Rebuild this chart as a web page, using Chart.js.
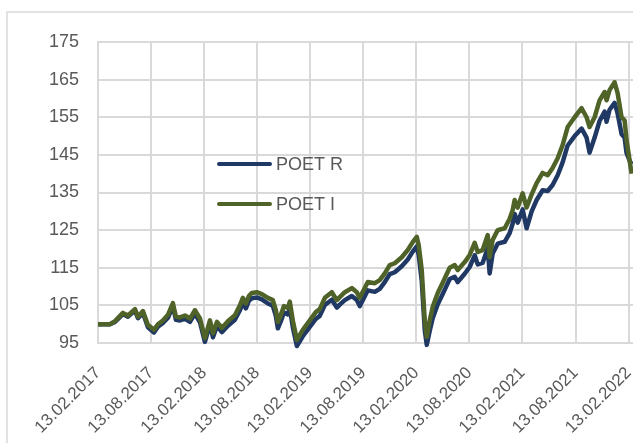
<!DOCTYPE html>
<html>
<head>
<meta charset="utf-8">
<script src="https://cdn.jsdelivr.net/npm/chart.js@4"></script>
<style>
  html, body { margin: 0; padding: 0; background: #fff; }
  #wrap { position: relative; width: 633px; height: 443px; }
</style>
</head>
<body>
<div id="wrap"><canvas id="chart"></canvas></div>
<script>
// x = months since 13.02.2017
const xMonths = [0, 1.36, 1.92, 2.82, 3.39, 4.18, 4.52, 5.08, 5.65, 6.33, 6.78, 7.34, 7.91, 8.47, 8.81, 9.27, 9.83, 10.4, 10.96, 11.53,
  12.09, 12.66, 13.0, 13.45, 14.01, 14.69, 15.48, 16.05, 16.38, 16.72, 17.06, 17.4, 17.97, 18.53, 19.21, 19.77, 20.11, 20.34, 20.68, 21.02,
  21.47, 21.69, 22.03, 22.49, 23.16, 23.95, 24.63, 25.08, 25.65, 26.44, 27.01, 27.34, 27.91, 28.7, 29.27, 29.6, 30.51, 31.3, 31.86, 32.43,
  32.99, 33.56, 34.35, 35.03, 35.59, 36.05, 36.27, 36.61, 36.95, 37.18, 37.51, 37.85, 38.42, 38.98, 39.77, 40.34, 40.68, 41.47, 42.03, 42.6,
  42.94, 43.5, 44.07, 44.29, 44.63, 45.2, 45.99, 46.55, 46.89, 47.12, 47.46, 48.02, 48.47, 49.04, 49.6, 50.28, 50.85, 51.41, 51.98, 52.54,
  53.11, 53.9, 54.69, 55.25, 55.59, 56.16, 56.72, 57.29, 57.51, 57.85, 58.42, 58.76, 59.21, 59.55, 59.77, 60.11, 60.34];

const poetR = [100, 100, 100.6, 102.7, 102, 103.6, 101.6, 103, 99.2, 97.8, 99.3, 100.3, 101.7, 104.8, 101.2, 101, 101.4, 100.6, 102.8, 100.5,
  95.3, 100, 96.5, 99.5, 97.9, 99.6, 101.2, 103.7, 105.7, 104.2, 106.2, 106.9, 107.1, 106.6, 105.5, 104.9, 102.2, 98.9, 100.8, 103.1,
  102.6, 104.3, 99.2, 94.2, 96.8, 99.3, 101.4, 102.2, 105.1, 106.5, 104.4, 105.2, 106.4, 107.5, 106.4, 104.8, 109, 108.6, 109.4, 111.2,
  113.3, 113.8, 115.4, 117.2, 119.3, 120.7, 118.3, 111.5, 98.5, 94.5, 98.2, 101.6, 105.3, 108, 112, 112.6, 111.2, 113.4, 115.2, 118.3,
  115.9, 116.3, 120.2, 113.5, 118.8, 121.4, 121.9, 124.2, 126.7, 129.3, 127, 130.5, 125.5, 130, 133, 135.6, 135.4, 137, 139.6, 143,
  147.5, 150, 152, 149.6, 145.6, 149.6, 154, 156.5, 153.8, 157, 158.8, 156, 150.5, 149.6, 145.5, 143.5, 142.5];

const poetI = [100, 100, 100.8, 103, 102.3, 104, 102, 103.5, 99.8, 98.5, 100, 101, 102.5, 105.6, 102, 101.8, 102.3, 101.5, 103.7, 101.5,
  96.3, 101, 97.6, 100.6, 99, 100.8, 102.4, 105, 107, 105.5, 107.5, 108.3, 108.5, 108, 107, 106.4, 103.8, 100.6, 102.5, 104.8,
  104.3, 106, 101, 95.8, 98.5, 101, 103.2, 104, 107, 108.5, 106.4, 107.2, 108.5, 109.6, 108.5, 107, 111.2, 110.9, 111.7, 113.5,
  115.7, 116.2, 117.8, 119.7, 121.8, 123.2, 121, 114.4, 101, 96.6, 101, 104.6, 108.3, 111, 115, 115.7, 114.4, 116.5, 118.4, 121.6,
  119.2, 119.7, 123.7, 117.8, 122.4, 125, 125.5, 128, 130.3, 133, 131, 134.8, 131, 134.5, 137.5, 140.2, 139.6, 141.5, 144.1, 147.6,
  152.4, 155, 157.4, 155, 152.4, 155, 159.5, 161.7, 159.5, 162.2, 164.3, 161.4, 155, 154.2, 148.9, 143.6, 140];

const tickLabels = ['13.02.2017', '13.08.2017', '13.02.2018', '13.08.2018', '13.02.2019', '13.08.2019',
  '13.02.2020', '13.08.2020', '13.02.2021', '13.08.2021', '13.02.2022'];

const seriesNames = ['POET R', 'POET I'];
const seriesColors = ['#203864', '#4f6228'];

const fontFamily = '"Liberation Sans Narrow", "Arial Narrow", "Liberation Sans", Arial, sans-serif';
const textColor = '#595959';
const gridColor = '#d9d9d9';

// outer frame of the chart
const framePlugin = {
  id: 'frame',
  beforeDraw(chart) {
    const ctx = chart.ctx;
    ctx.save();
    ctx.fillStyle = '#fff';
    ctx.fillRect(0, 0, chart.width, chart.height);
    ctx.strokeStyle = gridColor;
    ctx.lineWidth = 1.5;
    ctx.strokeRect(7, 12, chart.width + 20, chart.height + 20);
    ctx.restore();
  }
};

// legend sits inside the plot
const insideLegend = {
  id: 'insideLegend',
  afterDraw(chart) {
    const ctx = chart.ctx;
    ctx.save();
    chart.data.datasets.forEach((ds, i) => {
      const y = 164 + i * 40;
      ctx.strokeStyle = ds.borderColor;
      ctx.lineWidth = 4;
      ctx.lineCap = 'round';
      ctx.beginPath();
      ctx.moveTo(219, y);
      ctx.lineTo(270, y);
      ctx.stroke();
      ctx.fillStyle = textColor;
      ctx.font = '18px ' + fontFamily;
      ctx.textBaseline = 'middle';
      ctx.fillText(ds.label, 276, y + 1);
    });
    ctx.restore();
  }
};

function makeSeries(values) {
  return xMonths.map((m, i) => ({ x: m, y: values[i] }));
}

const ctx = document.getElementById('chart');
const chart = new Chart(ctx, {
  type: 'line',
  data: {
    datasets: [
      {
        label: seriesNames[0],
        data: makeSeries(poetR),
        borderColor: seriesColors[0],
        borderWidth: 4.5,
        pointRadius: 0,
        borderJoinStyle: 'round',
        clip: false,
        order: 1
      },
      {
        label: seriesNames[1],
        data: makeSeries(poetI),
        borderColor: seriesColors[1],
        borderWidth: 4.5,
        pointRadius: 0,
        borderJoinStyle: 'round',
        clip: false,
        order: 0
      }
    ]
  },
  options: {
    responsive: true,
    maintainAspectRatio: false,
    animation: false,
    layout: { padding: { top: 42, left: 0, right: 0, bottom: 0 } },
    plugins: {
      legend: { display: false },
      tooltip: { enabled: false }
    },
    scales: {
      x: {
        type: 'linear',
        min: 0,
        max: 60.5,
        afterFit(scale) {
          scale.height = 100;
          scale.paddingLeft = 0;
          scale.paddingRight = 0;
        },
        grid: { color: gridColor, lineWidth: 2, drawTicks: false },
        border: { color: gridColor, width: 2 },
        ticks: {
          stepSize: 6,
          includeBounds: false,
          autoSkip: false,
          minRotation: 45,
          maxRotation: 45,
          padding: 20,
          color: textColor,
          font: { family: fontFamily, size: 17 },
          callback: (v) => (v % 6 === 0 ? tickLabels[v / 6] : '')
        }
      },
      y: {
        min: 95,
        max: 175,
        afterFit(scale) { scale.width = 98; },
        grid: { color: gridColor, lineWidth: 2, drawTicks: false },
        border: { color: gridColor, width: 2 },
        ticks: {
          stepSize: 10,
          padding: 19,
          color: textColor,
          font: { family: fontFamily, size: 18 }
        }
      }
    }
  },
  plugins: [framePlugin, insideLegend]
});
</script>
</body>
</html>
